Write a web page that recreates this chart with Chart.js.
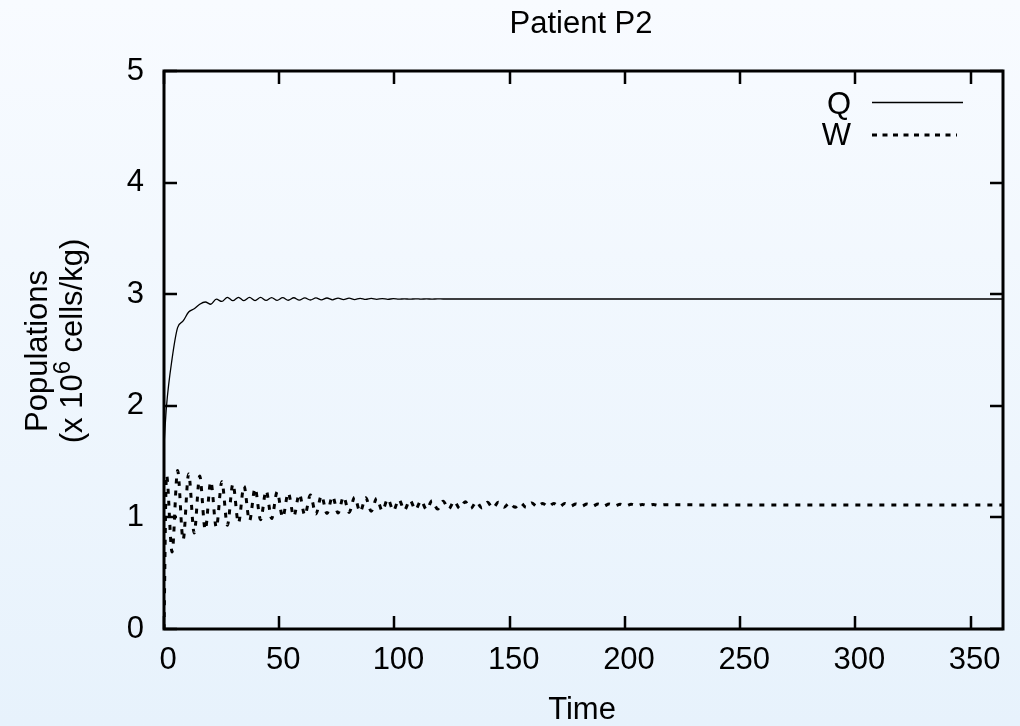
<!DOCTYPE html>
<html>
<head>
<meta charset="utf-8">
<script src="https://cdn.jsdelivr.net/npm/chart.js@4/dist/chart.umd.min.js"></script>
<style>
  html, body { margin: 0; padding: 0; }
  body {
    width: 1020px; height: 726px; overflow: hidden;
    background: linear-gradient(to bottom, #f8fbff 0%, #e7f2fc 100%);
  }
</style>
</head>
<body>
<canvas id="chart" width="1020" height="726"></canvas>
<script>
/* ── Patient P2 — Q / W populations over time ───────────────────────────────── */

// ── Data ──────────────────────────────────────────────────────────────────────
const DAYS = [
  0, 1.1, 3.5, 5.9, 8.3, 10.7, 13.1, 15.5, 17.9, 20.3,
  22.7, 25.1, 27.5, 29.9, 32.3, 34.7, 37.1, 39.5, 41.9, 44.3,
  46.7, 49.1, 51.5, 53.9, 56.3, 58.7, 61.1, 63.5, 65.9, 68.3,
  70.7, 73.1, 75.5, 77.9, 80.3, 82.7, 85.1, 87.5, 89.9, 92.3,
  94.7, 97.1, 99.5, 101.9, 104.3, 106.7, 109.1, 111.5, 113.9, 116.3,
  118.7, 121.1, 123.5, 125.9, 128.3, 130.7, 133.1, 135.5, 137.9, 140.3,
  142.7, 145.1, 147.5, 149.9, 152.3, 154.7, 157.1, 159.5, 161.9, 164.3,
  166.7, 169.1, 171.5, 173.9, 176.3, 178.7, 181.1, 183.5, 185.9, 188.3,
  190.7, 193.1, 195.5, 197.9, 200.3, 202.7, 205.1, 207.5, 209.9, 212.3,
  214.7, 217.1, 240, 300, 364,
];

const Q_VALUES = [
  1.65, 2.00, 2.42, 2.70, 2.76, 2.84, 2.87, 2.91, 2.93, 2.91,
  2.955, 2.935, 2.972, 2.942, 2.972, 2.942, 2.971, 2.943, 2.971, 2.944,
  2.970, 2.945, 2.969, 2.946, 2.968, 2.947, 2.967, 2.948, 2.967, 2.949,
  2.966, 2.950, 2.965, 2.951, 2.964, 2.952, 2.963, 2.953, 2.962, 2.954,
  2.961, 2.954, 2.960, 2.955, 2.959, 2.955, 2.959, 2.956, 2.958, 2.956,
  2.958, 2.957, 2.957, 2.957, 2.957, 2.957, 2.957, 2.957, 2.957, 2.957,
  2.957, 2.957, 2.957, 2.957, 2.957, 2.957, 2.957, 2.957, 2.957, 2.957,
  2.957, 2.957, 2.957, 2.957, 2.957, 2.957, 2.957, 2.957, 2.957, 2.957,
  2.957, 2.957, 2.957, 2.957, 2.957, 2.957, 2.957, 2.957, 2.957, 2.957,
  2.957, 2.957, 2.957, 2.957, 2.957,
];

const W_VALUES = [
  0, 1.38, 0.69, 1.42, 0.80, 1.39, 0.86, 1.37, 0.89, 1.32,
  0.91, 1.32, 0.93, 1.30, 0.95, 1.28, 0.97, 1.26, 0.98, 1.24,
  0.99, 1.23, 1.00, 1.22, 1.01, 1.21, 1.02, 1.20, 1.03, 1.195,
  1.035, 1.19, 1.04, 1.185, 1.045, 1.18, 1.05, 1.175, 1.055, 1.17,
  1.06, 1.165, 1.06, 1.16, 1.065, 1.155, 1.07, 1.15, 1.07, 1.15,
  1.075, 1.145, 1.075, 1.145, 1.08, 1.14, 1.08, 1.14, 1.085, 1.135,
  1.085, 1.135, 1.09, 1.13, 1.09, 1.13, 1.09, 1.13, 1.095, 1.125,
  1.095, 1.125, 1.095, 1.125, 1.10, 1.12, 1.10, 1.12, 1.10, 1.12,
  1.10, 1.12, 1.103, 1.118, 1.104, 1.117, 1.105, 1.116, 1.106, 1.115,
  1.107, 1.114, 1.111, 1.111, 1.111,
];

const X_TICKS = [0, 50, 100, 150, 200, 250, 300, 350];
const Y_TICKS = [0, 1, 2, 3, 4, 5];
const X_MAX   = 364;

const FONT = "'Liberation Sans', Arial, Helvetica, sans-serif";
const FONT_SIZE = 31;

Chart.defaults.font.family = FONT;
Chart.defaults.font.size   = FONT_SIZE;
Chart.defaults.color       = '#000';

// ── Helpers ───────────────────────────────────────────────────────────────────
const toPoints = vals => DAYS.map((d, i) => ({ x: d, y: vals[i] }));
const fixTicks = list => scale => { scale.ticks = list.map(v => ({ value: v })); };

// Frame with mirrored inward ticks, titles and the key (gnuplot look)
const framePlugin = {
  id: 'frame',
  afterDraw(chart) {
    const { ctx, chartArea: a, scales: { x, y } } = chart;
    ctx.save();
    ctx.strokeStyle = '#000';
    ctx.fillStyle   = '#000';

    ctx.lineWidth = 2.5;
    ctx.beginPath();
    X_TICKS.forEach(v => {
      const px = Math.round(x.getPixelForValue(v));
      ctx.moveTo(px, a.bottom); ctx.lineTo(px, a.bottom - 13);
      ctx.moveTo(px, a.top);    ctx.lineTo(px, a.top + 13);
    });
    Y_TICKS.forEach(v => {
      const py = Math.round(y.getPixelForValue(v));
      ctx.moveTo(a.left, py);  ctx.lineTo(a.left + 13, py);
      ctx.moveTo(a.right, py); ctx.lineTo(a.right - 13, py);
    });
    ctx.stroke();

    ctx.lineWidth = 3;
    ctx.strokeRect(a.left, a.top, a.right - a.left, a.bottom - a.top);

    // titles
    ctx.font = `${FONT_SIZE}px ${FONT}`;
    ctx.textBaseline = 'alphabetic';
    ctx.textAlign = 'center';
    ctx.fillText('Patient P2', 581, 33);
    ctx.fillText('Time', 582, 719);

    // y title, two rotated lines, second one with a superscript
    ctx.save();
    ctx.translate(47, 351);
    ctx.rotate(-Math.PI / 2);
    ctx.fillText('Populations', 0, 0);
    ctx.restore();

    ctx.save();
    ctx.translate(82, 341);
    ctx.rotate(-Math.PI / 2);
    ctx.textAlign = 'left';
    const big = `${FONT_SIZE}px ${FONT}`, small = `24px ${FONT}`;
    ctx.font = big;   const w1 = ctx.measureText('(x 10').width;
    ctx.font = small; const w2 = ctx.measureText('6').width;
    ctx.font = big;   const w3 = ctx.measureText(' cells/kg)').width;
    let cx = -(w1 + w2 + w3) / 2;
    ctx.fillText('(x 10', cx, 0); cx += w1;
    ctx.font = small; ctx.fillText('6', cx, -12); cx += w2;
    ctx.font = big;   ctx.fillText(' cells/kg)', cx, 0);
    ctx.restore();

    // key
    ctx.textAlign = 'right';
    ctx.fillText('Q', 851, 114);
    ctx.fillText('W', 851, 145);
    ctx.lineWidth = 1.3;
    ctx.beginPath(); ctx.moveTo(872, 102.5); ctx.lineTo(963, 102.5); ctx.stroke();
    ctx.lineWidth = 3;
    ctx.setLineDash([5, 5.5]);
    ctx.beginPath(); ctx.moveTo(872, 135); ctx.lineTo(957, 135); ctx.stroke();
    ctx.restore();
  },
};

// ── Chart ─────────────────────────────────────────────────────────────────────
new Chart(document.getElementById('chart'), {
  type: 'line',
  data: {
    datasets: [
      {
        label: 'Q',
        data: toPoints(Q_VALUES),
        borderColor: '#000',
        borderWidth: 1.3,
        pointRadius: 0,
        cubicInterpolationMode: 'monotone',
        fill: false,
      },
      {
        label: 'W',
        data: toPoints(W_VALUES),
        borderColor: '#000',
        borderWidth: 3,
        borderDash: [5, 7],
        pointRadius: 0,
        cubicInterpolationMode: 'monotone',
        fill: false,
      },
    ],
  },
  options: {
    responsive: false,
    animation: false,
    devicePixelRatio: 1,
    layout: { padding: { top: 71, right: 17, left: 0, bottom: 0 } },
    plugins: { legend: { display: false }, title: { display: false }, tooltip: { enabled: false } },
    scales: {
      x: {
        type: 'linear', min: 0, max: X_MAX,
        afterBuildTicks: fixTicks(X_TICKS),
        afterFit: s => { s.height = 97; },
        grid: { display: false, drawTicks: false },
        border: { display: false },
        ticks: { padding: 13, labelOffset: 4, maxRotation: 0, color: '#000' },
      },
      y: {
        min: 0, max: 5,
        afterBuildTicks: fixTicks(Y_TICKS),
        afterFit: s => { s.width = 164; },
        grid: { display: false, drawTicks: false },
        border: { display: false },
        ticks: { padding: 20, color: '#000' },
      },
    },
  },
  plugins: [framePlugin],
});
</script>
</body>
</html>
